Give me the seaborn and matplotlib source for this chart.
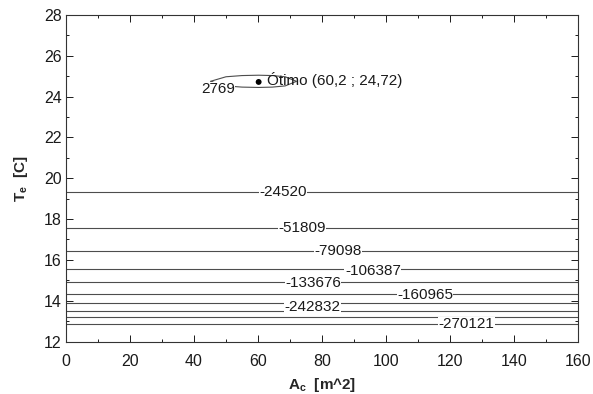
import numpy as np
import matplotlib
matplotlib.use("Agg")
import matplotlib.pyplot as plt
from matplotlib.ticker import MultipleLocator
import seaborn as sns

# grid: collector area (columns), evaporator temp (rows)
area_cols = [0, 30, 44.5, 50, 55, 60.2, 64.5, 68.5, 72.5, 90, 160]
te_rows = [12.0, 12.87, 13.19, 13.49, 13.88, 14.34, 14.9, 15.55, 16.42,
           17.58, 19.33, 24.35, 24.75, 25.15, 28.0]

# contour levels shown in the chart
levels = [-270121, -242832, -215543, -188254, -160965, -133676,
          -106387, -79098, -51809, -24520, 2769]

# value of each row across the area columns
row_low = [-300000] * 11
row_flank = [1769] * 11
row_peak = [1500, 2300, 2600, 4039, 5179, 5769, 5179, 4039, 2600, 2300, 1200]
row_top = [-15000] * 11

# labelled levels
label_levels = [2769, -24520, -51809, -79098, -106387, -133676, -160965,
                -242832, -270121]

opt_area = [60.2]
opt_te = [24.72]
opt_text = "Ótimo (60,2 ; 24,72)"

# build the value table
z_rows = [row_low] + [[lv] * 11 for lv in levels[:10]] + [row_flank, row_peak, row_flank, row_top]
Z = np.array(z_rows, dtype=float)

sns.set_theme(style="ticks")
plt.rcParams['font.family'] = ['Liberation Sans', 'DejaVu Sans']
plt.rcParams['mathtext.fontset'] = 'custom'
plt.rcParams['mathtext.rm'] = 'Liberation Sans'
plt.rcParams['mathtext.bf'] = 'Liberation Sans:bold'

fig = plt.figure(figsize=(5.93, 3.94), dpi=100)
ax = fig.add_axes([0.1113, 0.1332, 0.8634, 0.8287])

ax.contour(area_cols, te_rows, Z, levels=levels, colors='0.3',
           linewidths=0.8, linestyles='solid')

# contour labels placed like the original (white box breaks the line)
label_pos = [(47.5, 24.37), (67.8, 19.33), (73.8, 17.58), (85.0, 16.42),
             (95.9, 15.45), (77.2, 14.86), (112.2, 14.28), (76.9, 13.7),
             (125.2, 12.85)]
for lv, (x, y) in zip(label_levels, label_pos):
    ax.text(x, y, str(lv), ha='center', va='center', fontsize=11, color='0.1',
            bbox=dict(facecolor='white', edgecolor='none', pad=0.3))

sns.scatterplot(x=opt_area, y=opt_te, ax=ax, color='black', s=18,
                edgecolor='none', legend=False, zorder=5)
ax.text(opt_area[0] + 2.6, opt_te[0] + 0.08, opt_text, fontsize=11,
        ha='left', va='center', color='0.1')

ax.set_xlim(0, 160)
ax.set_ylim(12, 28)
ax.xaxis.set_major_locator(MultipleLocator(20))
ax.xaxis.set_minor_locator(MultipleLocator(10))
ax.yaxis.set_major_locator(MultipleLocator(2))
ax.yaxis.set_minor_locator(MultipleLocator(1))
ax.tick_params(which='both', direction='in', top=True, right=True,
               labelsize=11.5, colors='0.1', width=0.7)
ax.tick_params(which='major', length=5)
ax.tick_params(which='minor', length=2.5)
ax.tick_params(axis='x', which='major', pad=9)
ax.tick_params(axis='y', which='major', pad=3)
for sp in ax.spines.values():
    sp.set_linewidth(0.8)
    sp.set_color('0.2')

ax.set_xlabel(r'$\mathbf{A_c}$  [m^2]', fontsize=11, fontweight='bold', labelpad=5)
ax.set_ylabel(r'$\mathbf{T_e}$  [C]', fontsize=11, fontweight='bold', labelpad=10)

fig.savefig('out.png', dpi=100)
